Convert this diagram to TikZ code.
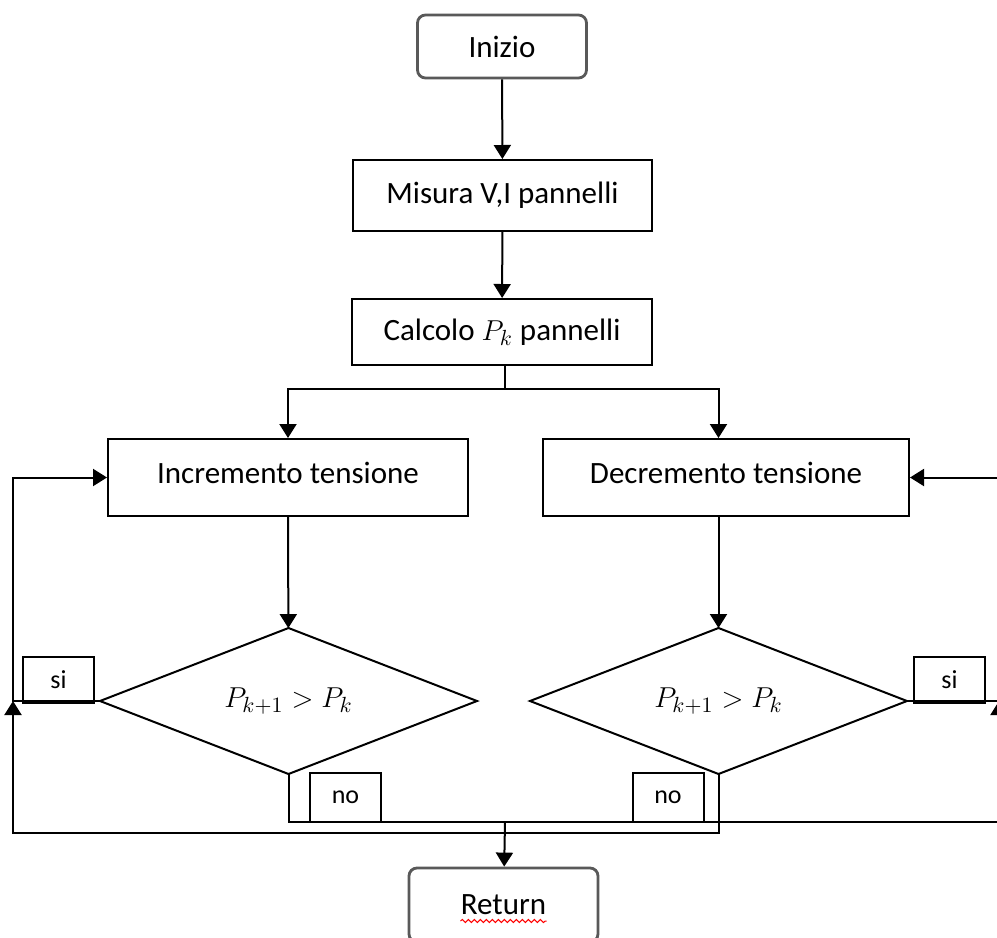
\documentclass[tikz,border=0pt]{standalone}
\usepackage{fontspec}
\setmainfont{Carlito}
\usetikzlibrary{shapes.geometric,arrows.meta,decorations.pathmorphing}

\begin{document}
\begin{tikzpicture}[x=0.5pt,y=-0.5pt, % one unit = one pixel, y down
    every node/.style={font=\fontsize{15.5}{18}\selectfont},
    term/.style={draw=black!65,line width=1.4pt,rounded corners=4pt,inner sep=0pt},
    box/.style={draw,line width=1pt,inner sep=0pt},
    test/.style={diamond,draw,line width=1pt,inner sep=0pt,outer sep=0pt,aspect=2.58,minimum width=188.5pt,minimum height=73pt},
    tag/.style={draw,line width=1pt,inner sep=0pt,minimum width=35.5pt,font=\fontsize{13}{15}\selectfont},
    line/.style={line width=1pt},
    flow/.style={line width=1pt,-{Triangle[width=8.5pt,length=7pt]}}]

    \fill[white] (0,0) rectangle (997,938);
    \clip (0,0) rectangle (997,938);

    % Add blocks
    \node[term,minimum width=84.5pt,minimum height=31.5pt] (start) at (502,46.5) {Inizio};
    \node[box,minimum width=149.5pt,minimum height=35.5pt] (meas) at (502.5,195.5) {Misura V,I pannelli};
    \node[box,minimum width=150pt,minimum height=33pt] (calc) at (502,332) {Calcolo $P_k$ pannelli};
    \node[box,minimum width=180pt,minimum height=38.5pt,text depth=5pt] (incr) at (288,477.5) {Incremento tensione};
    \node[box,minimum width=183pt,minimum height=38.5pt,text depth=5pt] (decr) at (726,477.5) {Decremento tensione};
    \node[test] (Q1) at (288.5,701) {$P_{k+1} > P_k$};
    \node[test] (Q2) at (718.5,701) {$P_{k+1} > P_k$};
    \node[term,minimum width=94.5pt,minimum height=37pt] (ret) at (503.5,905) {Return};

    % Add answer labels
    \node[tag,minimum height=23pt] (siL) at (58.5,680) {si};
    \node[tag,minimum height=23pt] (siR) at (949.5,680) {si};
    \node[tag,minimum height=24.5pt] (noL) at (345.5,797.5) {no};
    \node[tag,minimum height=24.5pt] (noR) at (668,797.5) {no};

    % Define junctions
    \coordinate (J) at (505,389); \coordinate (L) at (13,833); \coordinate (R) at (999,822); \coordinate (K) at (505,822);

    % Draw main flow
    \draw[flow] (start) -- (meas);
    \draw[flow] (meas) -- (calc);
    \draw[line] (J |- calc.south) -- (J);
    \draw[flow] (J) -| (incr);
    \draw[flow] (J) -| (Q2 |- decr.north);
    \draw[flow] (incr) -- (Q1);
    \draw[flow] (Q2 |- decr.south) -- (Q2);

    % Draw loops
    \draw[flow] (Q1.west) -- (Q1.west -| L) |- (incr.west);
    \draw[flow] (Q2.south) |- (L) -- (Q1.west -| L);
    \draw[flow] (Q2.east) -- (Q2.east -| R) |- (decr.east);
    \draw[flow] (Q1.south) |- (R) -- (Q2.east -| R);
    \draw[flow] (K) -- (ret);

    % Draw spelling mark
    \draw[red,line width=0.5pt,decorate,decoration={snake,amplitude=0.8pt,segment length=3pt}]
      ([xshift=-21.5pt,yshift=-8pt]ret.center) -- ([xshift=21.5pt,yshift=-8pt]ret.center);

\end{tikzpicture}
\end{document}
